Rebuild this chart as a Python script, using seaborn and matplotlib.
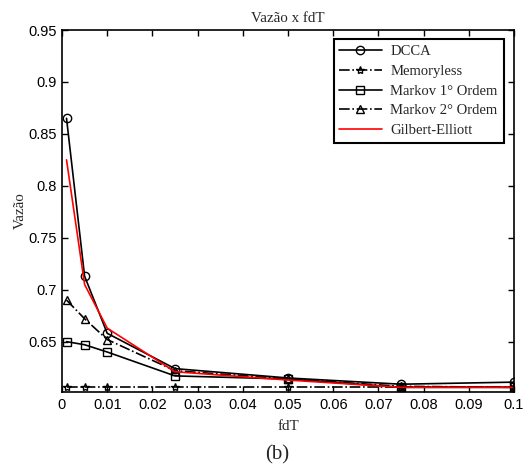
import matplotlib
matplotlib.use("Agg")
import matplotlib.pyplot as plt
import seaborn as sns
import pandas as pd

fdT = [0.001, 0.005, 0.01, 0.025, 0.05, 0.075, 0.1]
dcca = [0.865, 0.713, 0.658, 0.624, 0.615, 0.609, 0.611]
memoryless = [0.606, 0.606, 0.606, 0.606, 0.606, 0.606, 0.606]
markov1 = [0.650, 0.647, 0.640, 0.617, 0.614, 0.606, 0.606]
markov2 = [0.690, 0.672, 0.652, 0.622, 0.614, 0.607, 0.606]
gilbert = [0.825, 0.705, 0.663, 0.621, 0.613, 0.606, 0.606]

series_names = ["DCCA", "Memoryless", "Markov 1° Ordem", "Markov 2° Ordem", "Gilbert-Elliott"]
series_vals = [dcca, memoryless, markov1, markov2, gilbert]

sns.set_theme(style="white")
plt.rcParams["font.family"] = ["Liberation Sans", "DejaVu Sans"]

fig = plt.figure(figsize=(5.3, 4.72), dpi=100)
ax = fig.add_axes([62/530, 1-392/472, (514-62)/530, (392-30)/472])

styles = {
    "DCCA": dict(color="black", linestyle="-", marker="o"),
    "Memoryless": dict(color="black", linestyle="-.", marker="*"),
    "Markov 1° Ordem": dict(color="black", linestyle="-", marker="s"),
    "Markov 2° Ordem": dict(color="black", linestyle="-.", marker="^"),
    "Gilbert-Elliott": dict(color="red", linestyle="-", marker=None),
}

for name, vals in zip(series_names, series_vals):
    df = pd.DataFrame({"fdT": fdT, "v": vals})
    st = styles[name]
    kw = dict(markersize=6, markerfacecolor="none", markeredgecolor="black", markeredgewidth=1.0) if st["marker"] else {}
    sns.lineplot(data=df, x="fdT", y="v", ax=ax, color=st["color"], linestyle=st["linestyle"],
                 marker=st["marker"], linewidth=1.2, label=name, **kw)

ax.set_xlim(0, 0.1)
ax.set_ylim(0.6015, 0.95)
ax.set_xticks([0, 0.01, 0.02, 0.03, 0.04, 0.05, 0.06, 0.07, 0.08, 0.09, 0.1])
ax.set_xticklabels(["0", "0.01", "0.02", "0.03", "0.04", "0.05", "0.06", "0.07", "0.08", "0.09", "0.1"])
ax.set_yticks([0.65, 0.7, 0.75, 0.8, 0.85, 0.9, 0.95])
ax.set_yticklabels(["0.65", "0.7", "0.75", "0.8", "0.85", "0.9", "0.95"])
ax.tick_params(direction="in", length=4, width=1, top=True, right=True, bottom=True, left=True,
               labelsize=10.5, colors="black", pad=4)
for s in ax.spines.values():
    s.set_visible(True)
    s.set_color("black")
    s.set_linewidth(1.2)

serif = ["Liberation Serif", "DejaVu Serif"]
ax.set_title("Vazão x fdT", fontsize=10.8, family=serif, pad=6)
ax.set_xlabel("fdT", fontsize=10.8, family=serif, labelpad=6)
ax.set_ylabel("Vazão", fontsize=10.8, family=serif, labelpad=1)

leg = ax.legend(loc="upper right", bbox_to_anchor=(0.977, 0.975), frameon=True, fancybox=False,
                edgecolor="black", prop={"family": serif, "size": 10.5}, handlelength=2.9,
                borderpad=0.4, labelspacing=0.45, handletextpad=0.6, borderaxespad=0)
leg.get_frame().set_linewidth(1.5)
leg.get_frame().set_alpha(1)

fig.text(277/530, 1 - 455/472, "(b)", ha="center", va="center",
         fontsize=15, family=serif)

fig.savefig("out.png", dpi=100)
